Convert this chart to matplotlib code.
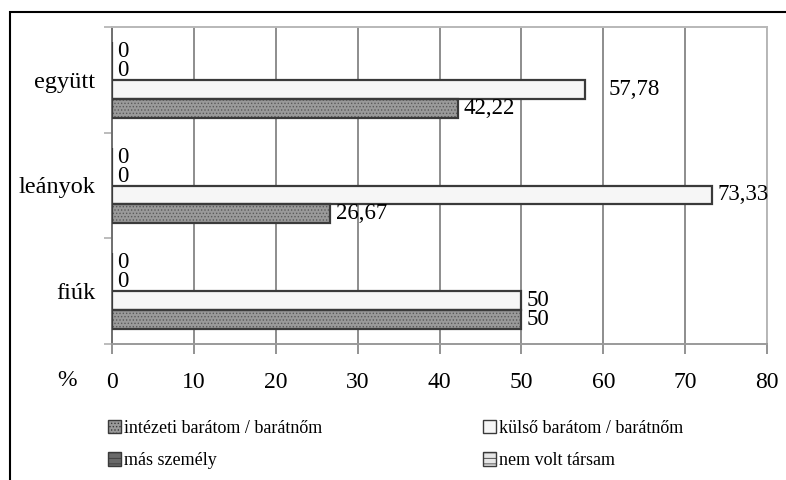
import matplotlib
matplotlib.use("Agg")
import matplotlib.pyplot as plt
from matplotlib.patches import Patch, Rectangle
import numpy as np

plt.rcParams['font.family'] = ['Liberation Serif', 'DejaVu Serif']
plt.rcParams['hatch.linewidth'] = 0.6

categories = ['fiúk', 'leányok', 'együtt']
series_names = ['intézeti barátom / barátnőm', 'külső barátom / barátnőm',
                'más személy', 'nem volt társam']
intezeti = [50, 26.67, 42.22]
kulso = [50, 73.33, 57.78]
mas = [0, 0, 0]
nem = [0, 0, 0]
xticks = [0, 10, 20, 30, 40, 50, 60, 70, 80]

series = [intezeti, kulso, mas, nem]
face = ['#9a9a9a', '#f6f6f6', '#6a6a6a', '#e6e6e6']
hatchc = ['#5a5a5a', '#b8b8b8', '#d0d0d0', '#ffffff']
hatches = ['.....', '::', '---', '---']
edge = '#3a3a3a'

W, H = 786, 480
fig = plt.figure(figsize=(W / 100, H / 100), dpi=100)
ax = fig.add_axes([112 / W, 1 - 344 / H, (767 - 112) / W, (344 - 27) / H])

y = np.arange(len(categories))
bh = 0.179
handles = []
for i, (vals, name) in enumerate(zip(series, series_names)):
    pos = y + (i - 1.5) * bh
    ax.barh(pos, vals, height=bh, color=face[i], hatch=hatches[i],
            edgecolor=hatchc[i], linewidth=0, zorder=3)
    ax.barh(pos, vals, height=bh, facecolor='none', edgecolor=edge,
            linewidth=1.6, zorder=4)
    p = Patch(facecolor=face[i], edgecolor=edge, hatch=hatches[i], linewidth=1.0, label=name)
    handles.append(p)
    for j, v in enumerate(vals):
        txt = f"{v:g}".replace('.', ',')
        dx = 4
        if i == 1 and j == 2:
            dx = 17
        ax.annotate(txt, (v, pos[j]), xytext=(dx, 0), textcoords='offset points',
                    ha='left', va='center', fontsize=16.5, color='black', zorder=5)

ax.set_xlim(0, 80)
ax.set_ylim(-0.5, 2.5)
ax.set_xticks(xticks)
ax.set_xticklabels([str(t) for t in xticks], fontsize=17)
ax.set_yticks(y)
ax.set_yticklabels(categories, fontsize=17.5)
ax.set_yticks([-0.5, 0.5, 1.5, 2.5], minor=True)
ax.tick_params(axis='y', which='major', length=0, pad=12)
ax.tick_params(axis='y', which='minor', length=6, color='#b0b0b0', width=1.2)
ax.tick_params(axis='x', which='major', length=7, color='#808080', width=1.2, pad=13)
ax.grid(axis='x', color='#7a7a7a', linewidth=1.2, zorder=0)
ax.set_axisbelow(True)
ax.spines['top'].set_color('#b8b8b8')
ax.spines['right'].set_color('#b8b8b8')
ax.spines['left'].set_color('#707070')
ax.spines['bottom'].set_color('#9a9a9a')
for s in ax.spines.values():
    s.set_linewidth(1.4)

fig.text(67 / W, 1 - 380 / H, '%', fontsize=17, ha='center', va='center')

order = [0, 2, 1, 3]
leg = fig.legend([handles[k] for k in order], [series_names[k] for k in order],
                 ncol=2, loc='upper left', bbox_to_anchor=(108 / W, 1 - 420 / H),
                 frameon=False, fontsize=13, handlelength=0.7, handleheight=0.75,
                 handletextpad=0.2, columnspacing=8.9, labelspacing=0.85,
                 borderaxespad=0, borderpad=0)

fig.add_artist(Rectangle((10 / W, -0.2), 1.2, 1.2 - 12 / H, transform=fig.transFigure,
                         fill=False, edgecolor='black', linewidth=1.5, clip_on=False))

fig.savefig('out.png', dpi=100)
